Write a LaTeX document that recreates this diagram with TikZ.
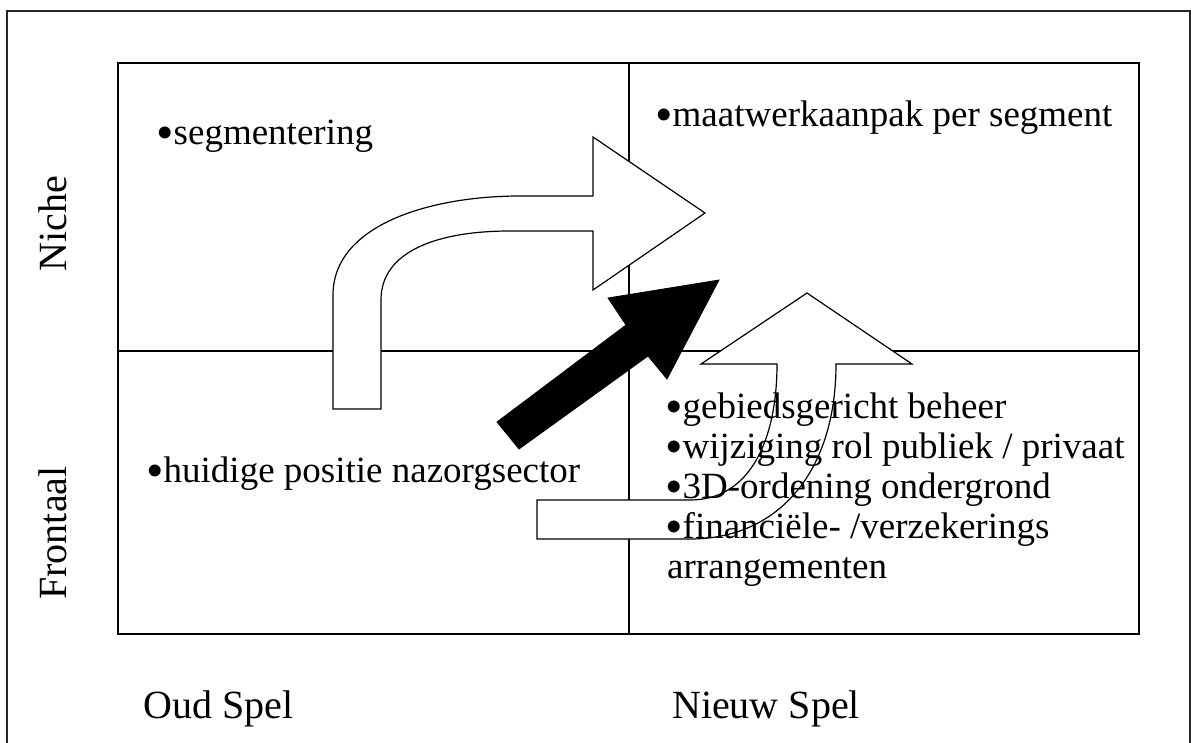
\documentclass[tikz,border=0pt]{standalone}
\usepackage{fontspec}
\setmainfont{Liberation Serif}
\newcommand{\bul}{\raisebox{-5pt}{\scalebox{1.35}{•}}}
\begin{document}
\begin{tikzpicture}[x=1pt,y=-1pt,
  frame/.style={draw=black!85,line width=2pt},
  grid/.style={draw=black,line width=1.2pt},
  hollow/.style={draw=black,fill=white,line width=1.2pt,line join=miter},
  solid/.style={fill=black,draw=black,line width=0.8pt},
  item/.style={anchor=base west,inner sep=0pt,text height=24pt,text depth=7pt,
    font=\fontsize{37}{40}\selectfont},
  axis/.style={inner sep=0pt,font=\fontsize{40}{44}\selectfont}]
\useasboundingbox (0,0) rectangle (1191,743);

% outer frame (open at the bottom edge)
\coordinate (fbl) at (7,743);
\coordinate (ftl) at (7,11);
\coordinate (ftr) at (1190,11);
\coordinate (fbr) at (1190,743);
\draw[frame] (fbl) -- (ftl) -- (ftr) -- (fbr);

% quadrant grid
\coordinate (gtl) at (118,63);
\coordinate (gbr) at (1139,634);
\coordinate (vt) at (629,63);
\coordinate (vb) at (629,634);
\coordinate (hl) at (118,351);
\coordinate (hr) at (1139,351);
\draw[grid] (gtl) rectangle (gbr);
\draw[grid] (vt) -- (vb);
\draw[grid] (hl) -- (hr);

% bent arrow: up from the lower left, then to the right
\draw[hollow] (333,409) -- (333,295)
  .. controls (333,225) and (430,196) .. (520,196)
  -- (593,196) -- (593,137) -- (705,213) -- (593,290) -- (593,231)
  -- (510,231) .. controls (440,231) and (381,250) .. (381,300)
  -- (381,409) -- cycle;

% bold diagonal arrow
\fill[solid] (497,422) -- (626,325) -- (608,298) -- (719,280)
  -- (667,379) -- (648,356) -- (519,449) -- cycle;

% curved arrow from the left, turning upwards
\draw[hollow] (537,500) -- (690,500)
  .. controls (750,500) and (777,440) .. (777,364)
  -- (701,364) -- (807,293) -- (912,364) -- (836,364)
  .. controls (836,470) and (780,539) .. (690,539)
  -- (537,539) -- cycle;

% quadrant texts
\node[item] (seg) at (156,145) {\bul segmentering};
\node[item] (maat) at (655,127) {\bul maatwerkaanpak per segment};
\node[item] (huid) at (146,482) {\bul huidige positie nazorgsector};
\node[item] (l1) at (665,418) {\bul gebiedsgericht beheer};
\node[item] (l2) at (665,458) {\bul wijziging rol publiek / privaat};
\node[item] (l3) at (665,498) {\bul 3D-ordening ondergrond};
\node[item] (l4) at (665,538) {\bul financiële- /verzekerings};
\node[item] (l5) at (667,578) {arrangementen};

% axis labels
\node[axis,rotate=90,anchor=base] (niche) at (66,224) {Niche};
\node[axis,rotate=90,anchor=base] (front) at (66,533) {Frontaal};
\node[axis,anchor=base west] (oud) at (143,718) {Oud Spel};
\node[axis,anchor=base west] (nieuw) at (672,718) {Nieuw Spel};
\end{tikzpicture}
\end{document}
